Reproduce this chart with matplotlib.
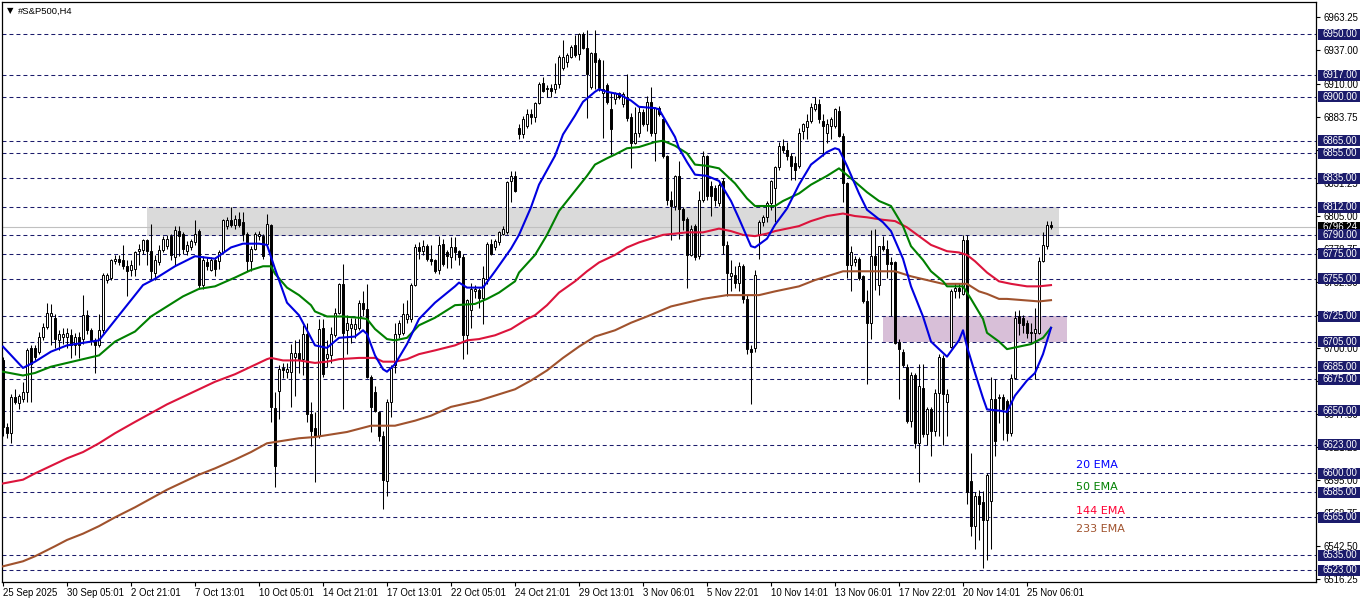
import matplotlib
matplotlib.use('Agg')
import matplotlib.pyplot as plt
from matplotlib.patches import Rectangle
import matplotlib.transforms as mtransforms

plt.rcParams['font.family'] = ['Liberation Sans', 'DejaVu Sans']

# ---------------- data (H4 candles, bar index 0 = 25 Sep 2025) ----------------
opens = [
    6690, 6637, 6632, 6661, 6656, 6659, 6665, 6700, 6700, 6697,
    6709, 6717, 6725, 6724, 6706, 6709, 6709, 6710, 6702, 6709,
    6707, 6726, 6714, 6706, 6702, 6714, 6754, 6756, 6769, 6771,
    6770, 6765, 6762, 6763, 6777, 6778, 6786, 6777, 6760, 6768,
    6778, 6781, 6789, 6772, 6793, 6791, 6777, 6780, 6784, 6793,
    6750, 6768, 6762, 6770, 6769, 6776, 6797, 6802, 6798, 6803,
    6800, 6791, 6769, 6779, 6789, 6789, 6783, 6798, 6652, 6666,
    6684, 6681, 6681, 6693, 6696, 6691, 6711, 6647, 6636, 6630,
    6716, 6692, 6694, 6710, 6728, 6751, 6714, 6716, 6715, 6716,
    6736, 6731, 6677, 6665, 6649, 6630, 6594, 6657, 6686, 6711,
    6712, 6723, 6723, 6750, 6780, 6777, 6781, 6771, 6770, 6762,
    6783, 6776, 6772, 6780, 6777, 6772, 6710, 6730, 6745, 6746,
    6740, 6755, 6783, 6780, 6784, 6791, 6792, 6833, 6837, 6875,
    6870, 6877, 6886, 6884, 6895, 6911, 6907, 6907, 6906, 6910,
    6923, 6928, 6932, 6941, 6934, 6950, 6939, 6908, 6935, 6929,
    6903, 6909, 6890, 6898, 6903, 6894, 6900, 6884, 6863, 6871,
    6888, 6878, 6896, 6871, 6891, 6882, 6853, 6818, 6813, 6837,
    6811, 6803, 6774, 6797, 6773, 6818, 6853, 6829, 6827, 6815,
    6833, 6782, 6757, 6758, 6752, 6765, 6739, 6699, 6700, 6790,
    6800, 6804, 6815, 6827, 6844, 6861, 6858, 6853, 6847, 6845,
    6873, 6876, 6881, 6890, 6894, 6881, 6871, 6877, 6877, 6889,
    6869, 6831, 6766, 6768, 6771, 6757, 6737, 6720, 6773, 6750,
    6781, 6779, 6768, 6768, 6705, 6697, 6685, 6642, 6678, 6624,
    6668, 6631, 6651, 6634, 6664, 6692, 6657, 6701, 6745, 6748,
    6743, 6786, 6594, 6558, 6582, 6577, 6563, 6578, 6659, 6660,
    6661, 6658, 6632, 6676, 6725, 6724, 6720, 6713, 6712, 6712,
    6769, 6781, 6798,
]
highs = [
    6693, 6640, 6663, 6667, 6663, 6673, 6700, 6702, 6702, 6713,
    6720, 6736, 6735, 6727, 6714, 6716, 6716, 6715, 6712, 6713,
    6742, 6730, 6716, 6708, 6727, 6760, 6760, 6771, 6774, 6774,
    6782, 6770, 6770, 6777, 6783, 6787, 6787, 6799, 6774, 6782,
    6789, 6790, 6791, 6797, 6797, 6792, 6785, 6787, 6802, 6795,
    6773, 6772, 6772, 6772, 6778, 6803, 6804, 6812, 6806, 6808,
    6808, 6792, 6781, 6792, 6793, 6791, 6807, 6799, 6665, 6686,
    6688, 6688, 6703, 6706, 6707, 6718, 6720, 6657, 6649, 6723,
    6723, 6706, 6717, 6732, 6752, 6767, 6726, 6724, 6724, 6738,
    6745, 6751, 6678, 6670, 6650, 6634, 6659, 6686, 6720, 6722,
    6736, 6738, 6752, 6783, 6784, 6786, 6783, 6782, 6771, 6789,
    6787, 6778, 6788, 6788, 6778, 6775, 6739, 6752, 6750, 6748,
    6765, 6784, 6787, 6787, 6793, 6797, 6833, 6841, 6841, 6878,
    6885, 6890, 6890, 6896, 6912, 6916, 6909, 6910, 6927, 6933,
    6945, 6935, 6941, 6949, 6951, 6952, 6953, 6936, 6953, 6931,
    6929, 6911, 6904, 6904, 6904, 6904, 6918, 6887, 6892, 6893,
    6890, 6901, 6908, 6892, 6893, 6883, 6854, 6825, 6838, 6849,
    6812, 6804, 6798, 6799, 6825, 6857, 6854, 6833, 6830, 6831,
    6835, 6785, 6770, 6765, 6768, 6767, 6742, 6702, 6762, 6802,
    6806, 6817, 6834, 6845, 6864, 6866, 6864, 6855, 6853, 6875,
    6879, 6886, 6895, 6900, 6898, 6886, 6882, 6884, 6891, 6893,
    6871, 6832, 6781, 6773, 6772, 6758, 6746, 6794, 6795, 6781,
    6789, 6786, 6772, 6769, 6707, 6699, 6687, 6681, 6680, 6687,
    6687, 6653, 6653, 6667, 6695, 6694, 6667, 6747, 6752, 6752,
    6790, 6790, 6616, 6585, 6587, 6586, 6600, 6677, 6675, 6663,
    6663, 6659, 6679, 6729, 6730, 6726, 6722, 6720, 6732, 6772,
    6792, 6801, 6801,
]
lows = [
    6630, 6628, 6624, 6655, 6651, 6657, 6657, 6657, 6690, 6695,
    6706, 6715, 6702, 6700, 6698, 6703, 6700, 6692, 6694, 6692,
    6703, 6711, 6702, 6680, 6701, 6712, 6752, 6754, 6767, 6766,
    6763, 6741, 6757, 6757, 6766, 6775, 6766, 6754, 6754, 6766,
    6776, 6779, 6770, 6766, 6773, 6775, 6774, 6778, 6782, 6747,
    6747, 6762, 6761, 6757, 6763, 6775, 6795, 6796, 6795, 6796,
    6785, 6761, 6761, 6778, 6786, 6771, 6780, 6641, 6589, 6643,
    6676, 6676, 6653, 6662, 6680, 6678, 6641, 6622, 6593, 6628,
    6677, 6685, 6688, 6709, 6727, 6651, 6695, 6704, 6708, 6714,
    6725, 6676, 6633, 6649, 6626, 6572, 6582, 6645, 6680, 6708,
    6710, 6720, 6721, 6749, 6771, 6774, 6769, 6766, 6760, 6759,
    6765, 6764, 6764, 6770, 6766, 6691, 6695, 6716, 6740, 6732,
    6719, 6751, 6774, 6778, 6782, 6790, 6791, 6816, 6824, 6866,
    6867, 6875, 6878, 6880, 6894, 6904, 6900, 6900, 6903, 6907,
    6921, 6924, 6931, 6932, 6929, 6938, 6883, 6906, 6906, 6905,
    6867, 6894, 6854, 6894, 6898, 6892, 6881, 6843, 6862, 6868,
    6877, 6873, 6869, 6849, 6885, 6851, 6814, 6786, 6810, 6787,
    6794, 6748, 6773, 6770, 6771, 6816, 6818, 6805, 6813, 6813,
    6775, 6741, 6745, 6748, 6745, 6736, 6695, 6655, 6697, 6771,
    6797, 6800, 6810, 6800, 6842, 6855, 6850, 6834, 6834, 6843,
    6866, 6866, 6879, 6889, 6879, 6853, 6863, 6866, 6875, 6868,
    6816, 6756, 6745, 6765, 6754, 6736, 6671, 6707, 6746, 6742,
    6777, 6756, 6725, 6703, 6659, 6685, 6640, 6637, 6620, 6593,
    6629, 6623, 6614, 6630, 6630, 6623, 6630, 6700, 6740, 6740,
    6742, 6576, 6550, 6540, 6547, 6525, 6531, 6540, 6614, 6640,
    6627, 6626, 6630, 6675, 6710, 6712, 6708, 6704, 6675, 6711,
    6768, 6779, 6795,
]
closes = [
    6637, 6632, 6661, 6657, 6662, 6665, 6698, 6687, 6693, 6709,
    6717, 6728, 6728, 6707, 6711, 6711, 6712, 6702, 6709, 6702,
    6726, 6714, 6706, 6702, 6714, 6758, 6758, 6770, 6771, 6768,
    6765, 6761, 6766, 6776, 6779, 6786, 6777, 6761, 6770, 6778,
    6787, 6787, 6774, 6794, 6789, 6779, 6782, 6785, 6791, 6750,
    6770, 6765, 6770, 6763, 6776, 6802, 6802, 6798, 6803, 6798,
    6791, 6769, 6779, 6791, 6791, 6773, 6799, 6653, 6606, 6683,
    6682, 6683, 6696, 6696, 6690, 6711, 6647, 6634, 6630, 6715,
    6679, 6695, 6711, 6728, 6751, 6712, 6720, 6719, 6719, 6736,
    6731, 6677, 6653, 6650, 6630, 6595, 6657, 6684, 6711, 6720,
    6727, 6727, 6750, 6780, 6777, 6781, 6771, 6769, 6761, 6782,
    6767, 6773, 6780, 6776, 6772, 6710, 6738, 6747, 6747, 6740,
    6756, 6783, 6775, 6785, 6792, 6795, 6832, 6837, 6825, 6870,
    6882, 6886, 6884, 6895, 6910, 6905, 6906, 6905, 6910, 6932,
    6932, 6933, 6940, 6933, 6950, 6939, 6918, 6935, 6928, 6907,
    6906, 6896, 6874, 6903, 6900, 6902, 6883, 6863, 6871, 6888,
    6878, 6896, 6871, 6891, 6886, 6853, 6818, 6813, 6837, 6811,
    6802, 6774, 6795, 6772, 6818, 6853, 6821, 6821, 6818, 6830,
    6782, 6760, 6760, 6752, 6765, 6739, 6699, 6697, 6758, 6800,
    6804, 6815, 6833, 6844, 6861, 6858, 6853, 6845, 6842, 6871,
    6878, 6881, 6892, 6894, 6882, 6877, 6878, 6882, 6890, 6869,
    6831, 6766, 6776, 6771, 6756, 6737, 6720, 6773, 6766, 6781,
    6779, 6767, 6767, 6704, 6699, 6686, 6642, 6678, 6624, 6670,
    6631, 6651, 6634, 6664, 6693, 6663, 6663, 6745, 6748, 6745,
    6786, 6585, 6558, 6582, 6576, 6563, 6599, 6659, 6626, 6661,
    6651, 6632, 6676, 6724, 6720, 6718, 6712, 6712, 6715, 6769,
    6782, 6798, 6796.24,
]
current_price = 6796.24

# moving averages (bar index, value)
ema20_bar = [0, 5, 8, 12, 16, 20, 24, 27, 31, 35, 38, 43, 48, 53, 57, 60, 64, 66,
             68, 71, 74, 78, 81, 84, 88, 90, 91, 93, 95, 96, 98, 101, 104, 108,
             113, 114, 116, 120, 123, 127, 129, 132, 134, 138, 140, 143, 145, 148,
             149, 151, 154, 157, 159, 163, 164, 166, 168, 169, 171, 173, 176, 179,
             182, 184, 187, 188, 191, 193, 196, 199, 202, 206, 208, 209, 211, 214,
             216, 220, 222, 225, 227, 230, 232, 235, 236, 239, 240, 241, 243, 245,
             246, 249, 251, 253, 256, 258, 260, 262]
ema20_val = [6701, 6684, 6689, 6697, 6702, 6704, 6706, 6718, 6734, 6750, 6755, 6765,
             6773, 6771, 6780, 6783, 6783, 6782, 6763, 6736, 6726, 6702, 6700, 6708,
             6709, 6714, 6711, 6694, 6683, 6681, 6687, 6703, 6723, 6736, 6749, 6752,
             6748, 6748, 6761, 6779, 6790, 6812, 6830, 6853, 6870, 6885, 6896, 6904,
             6906, 6904, 6902, 6897, 6892, 6891, 6890, 6879, 6868, 6859, 6848, 6838,
             6837, 6833, 6817, 6803, 6781, 6780, 6787, 6798, 6811, 6830, 6846, 6856,
             6859, 6858, 6845, 6823, 6810, 6800, 6793, 6771, 6749, 6725, 6705, 6696,
             6693, 6706, 6714, 6701, 6680, 6660, 6651, 6650, 6649, 6662, 6674, 6680,
             6695, 6716]

ema50_bar = [0, 5, 8, 12, 16, 20, 24, 28, 33, 37, 41, 45, 49, 53, 58, 62, 65, 67,
             68, 71, 74, 77, 78, 81, 85, 89, 91, 93, 96, 98, 101, 104, 108, 113,
             118, 121, 124, 128, 129, 133, 136, 139, 143, 146, 148, 151, 153, 156,
             159, 163, 165, 168, 171, 173, 176, 179, 183, 186, 188, 193, 195, 199,
             202, 206, 209, 212, 216, 219, 222, 225, 227, 230, 232, 235, 236, 240,
             242, 245, 246, 249, 251, 254, 257, 260, 262]
ema50_val = [6681, 6678, 6680, 6685, 6688, 6691, 6694, 6705, 6713, 6725, 6733, 6741,
             6747, 6749, 6756, 6762, 6765, 6765, 6759, 6748, 6742, 6734, 6729, 6725,
             6725, 6724, 6723, 6715, 6707, 6706, 6708, 6718, 6724, 6734, 6735, 6739,
             6744, 6753, 6760, 6774, 6790, 6809, 6825, 6837, 6846, 6851, 6854, 6859,
             6860, 6864, 6865, 6861, 6855, 6846, 6845, 6843, 6831, 6819, 6813, 6813,
             6817, 6823, 6830, 6837, 6843, 6835, 6824, 6817, 6813, 6797, 6781, 6770,
             6761, 6753, 6749, 6749, 6739, 6723, 6712, 6705, 6699, 6701, 6703, 6708,
             6716]

ema144_bar = [0, 5, 8, 12, 16, 20, 24, 28, 33, 37, 41, 45, 49, 53, 58, 62, 66, 67,
              70, 74, 78, 81, 84, 89, 93, 95, 98, 101, 104, 108, 113, 116, 119, 123,
              127, 131, 133, 136, 139, 143, 146, 149, 153, 156, 159, 163, 165, 168,
              171, 175, 179, 182, 185, 188, 191, 193, 196, 199, 202, 206, 210, 213,
              216, 220, 223, 226, 229, 232, 236, 239, 241, 243, 246, 249, 252, 256,
              259, 262]
ema144_val = [6592, 6595, 6600, 6606, 6612, 6617, 6624, 6632, 6641, 6648, 6655, 6661,
              6667, 6673, 6679, 6685, 6691, 6692, 6690, 6690, 6688, 6689, 6691, 6692,
              6692, 6689, 6689, 6691, 6695, 6698, 6702, 6706, 6707, 6710, 6715, 6723,
              6726, 6734, 6744, 6753, 6761, 6768, 6774, 6780, 6784, 6788, 6790, 6791,
              6792, 6792, 6795, 6793, 6790, 6789, 6791, 6793, 6795, 6797, 6801, 6805,
              6807, 6805, 6804, 6802, 6801, 6796, 6789, 6782, 6777, 6776, 6774, 6769,
              6760, 6753, 6751, 6749, 6749, 6750]

ema233_bar = [0, 5, 8, 13, 16, 20, 24, 28, 33, 37, 41, 45, 49, 53, 58, 62, 66, 70,
              74, 78, 82, 86, 92, 98, 103, 107, 112, 119, 123, 128, 132, 136, 140,
              144, 148, 153, 157, 161, 167, 175, 181, 189, 193, 199, 203, 207, 210,
              214, 223, 227, 231, 235, 241, 244, 246, 249, 251, 259, 262]
ema233_val = [6526, 6530, 6534, 6542, 6547, 6552, 6558, 6565, 6573, 6580, 6587, 6593,
              6599, 6604, 6611, 6617, 6624, 6626, 6628, 6629, 6631, 6633, 6638, 6638,
              6642, 6646, 6653, 6658, 6662, 6667, 6674, 6682, 6692, 6701, 6709, 6714,
              6720, 6725, 6733, 6739, 6742, 6742, 6745, 6749, 6754, 6758, 6761, 6761,
              6761, 6757, 6754, 6751, 6751, 6745, 6743, 6739, 6739, 6737, 6738]

levels = [6950, 6917, 6900, 6865, 6855, 6835, 6812, 6790, 6775, 6755, 6725,
          6705, 6685, 6675, 6650, 6623, 6600, 6585, 6565, 6535, 6523]

price_ticks = [6516.25, 6542.5, 6568.75, 6595, 6621.25, 6647.5, 6673.75, 6700,
               6726.25, 6752.5, 6778.75, 6805, 6831.25, 6857.5, 6883.75, 6910,
               6937, 6963.25]
price_labels = ['6516.25', '6542.50', '6568.75', '6595.00', '6621.25', '6647.50',
                '6673.75', '6700.00', '', '6752.50', '6778.75', '6805.00',
                '6831.25', '', '6883.75', '6910.00', '6937.00', '6963.25']

date_ticks = [0, 16, 32, 48, 64, 80, 96, 112, 128, 144, 160, 176, 192, 208, 224, 240, 256]
date_labels = ['25 Sep 2025', '30 Sep 05:01', '2 Oct 21:01', '7 Oct 13:01',
               '10 Oct 05:01', '14 Oct 21:01', '17 Oct 13:01', '22 Oct 05:01',
               '24 Oct 21:01', '29 Oct 13:01', '3 Nov 06:01', '5 Nov 22:01',
               '10 Nov 14:01', '13 Nov 06:01', '17 Nov 22:01', '20 Nov 14:01',
               '25 Nov 06:01']

resistance_zone = (6789.5, 6812)
support_zone = (6705, 6725)

# ---------------- figure ----------------
W, H = 1362, 603
fig = plt.figure(figsize=(W / 100, H / 100), dpi=100)
ax = fig.add_axes([2 / W, 21 / H, 1314 / W, 580 / H])
ax.set_xlim(-0.25, 328.25)
ax.set_ylim(6513.5, 6975.5)

for sp in ax.spines.values():
    sp.set_color('black')
    sp.set_linewidth(0.9)

# zones
ax.fill_between([36, 264], resistance_zone[0], resistance_zone[1],
                color='#dadada', lw=0, zorder=1)
ax.fill_between([220, 266], support_zone[0], support_zone[1],
                color='#d8bfd8', lw=0, zorder=1)

# level lines
navy = '#1b1b6b'
for lv in levels:
    ax.axhline(lv, color=navy, lw=0.75, ls=(0, (3.8, 2.9)), zorder=2)

# bid line
ax.axhline(current_price, color='#c0c0c0', lw=0.8, zorder=2)

# candles
idx = list(range(len(closes)))
ax.vlines(idx, lows, highs, color='black', lw=0.75, zorder=3)
bottoms = [min(o, c) for o, c in zip(opens, closes)]
heights = [max(abs(c - o), 0.5) for o, c in zip(opens, closes)]
faces = ['white' if c >= o else 'black' for o, c in zip(opens, closes)]
ax.bar(idx, heights, bottom=bottoms, width=0.55, color=faces,
       edgecolor='black', linewidth=0.7, zorder=4)

# moving averages
ax.plot(ema233_bar, ema233_val, color='#a0522d', lw=1.5, zorder=5)
ax.plot(ema144_bar, ema144_val, color='#dc143c', lw=1.5, zorder=5)
ax.plot(ema50_bar, ema50_val, color='#008000', lw=1.5, zorder=5)
ax.plot(ema20_bar, ema20_val, color='#0000e0', lw=1.5, zorder=5)

# legend-ish labels
ax.text(268.3, 6606.7, '20 EMA', color='#0000ff', fontsize=8, va='center',
        family='DejaVu Sans', zorder=6)
ax.text(268.3, 6589.4, '50 EMA', color='#008000', fontsize=8, va='center',
        family='DejaVu Sans', zorder=6)
ax.text(268.3, 6570.3, '144 EMA', color='#ff0033', fontsize=8, va='center',
        family='DejaVu Sans', zorder=6)
ax.text(268.3, 6556.0, '233 EMA', color='#a0522d', fontsize=8, va='center',
        family='DejaVu Sans', zorder=6)

# axes ticks
ax.yaxis.tick_right()
ax.set_yticks(price_ticks)
ax.set_yticklabels(price_labels)
ax.tick_params(axis='y', direction='out', length=3, width=0.8, pad=2.5,
               labelsize=6.9, colors='black')
ax.set_xticks(date_ticks)
ax.set_xticklabels(date_labels, ha='left')
ax.tick_params(axis='x', direction='out', length=3, width=0.8, pad=1.5,
               labelsize=6.9, colors='black')

# price boxes on the right axis
trans = mtransforms.blended_transform_factory(ax.transAxes, ax.transData)
px = (6975.5 - 6513.5) / 580.0
bx0 = 1 + 2 / 1314
bw = 42 / 1314
ax.add_patch(Rectangle((bx0, current_price - 5 * px), bw, 10 * px, transform=trans,
                       fc='black', ec='none', clip_on=False, zorder=9))
ax.text(bx0 + 4 / 1314, current_price, f'{current_price:.2f}', transform=trans,
        color='white', fontsize=6.9, va='center', ha='left', clip_on=False, zorder=10)
for lv in levels:
    ax.add_patch(Rectangle((bx0, lv - 5.5 * px), bw, 11 * px, transform=trans,
                           fc=navy, ec='none', clip_on=False, zorder=11))
    ax.text(bx0 + 4 / 1314, lv, f'{lv:.2f}', transform=trans, color='white',
            fontsize=6.9, va='center', ha='left', clip_on=False, zorder=12)

# symbol caption
fig.text(7 / W, 1 - 11 / H, '\u25bc', fontsize=6, va='center', ha='left',
         family='DejaVu Sans')
fig.text(18 / W, 1 - 11 / H, '#S&P500,H4', fontsize=6.8, va='center', ha='left')

fig.savefig('out.png', dpi=100)
